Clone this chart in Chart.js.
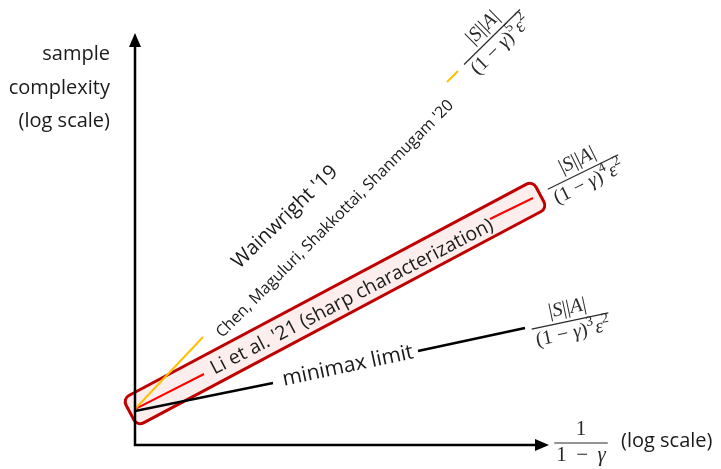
<!DOCTYPE html>
<html>
<head>
<meta charset="utf-8">
<script src="https://cdn.jsdelivr.net/npm/chart.js@4.4.1/dist/chart.umd.min.js"></script>
<style>
  html, body { margin: 0; padding: 0; background: #fff; }
  #wrap { position: relative; width: 721px; height: 469px; }
</style>
</head>
<body>
<div id="wrap"><canvas id="chart"></canvas></div>
<script>
// schematic, log-log units measured from the axis corner
const seriesNames = ["Chen et al. / Wainwright", "Li et al. '21", "minimax limit"];
const yellowPts = [[0, 0.36], [0.68, 1.08], null, [3.12, 3.63], [3.23, 3.74]];
const redPts = [[0, 0.36], [0.69, 0.71], null, [3.55, 2.26], [3.98, 2.47]];
const blackPts = [[0, 0.34], [1.38, 0.62], null, [2.83, 0.94], [3.90, 1.17]];
const bandEnds = [[-0.05, 0.325], [4.05, 2.505]];
const labelTexts = ["Wainwright '19", "Chen, Maguluri, Shakkottai, Shanmugam '20",
  "Li et al. '21 (sharp characterization)", "minimax limit"];
const yTitle = ['sample', 'complexity', '(log scale)'];
const xTitle = '(log scale)';
const exponents = ['5', '4', '3'];

const FONT = '"Open Sans", sans-serif';
const INK = '#1a1a1a';

function toXY(pts) {
  let lastX = 0;
  return pts.map(p => {
    if (!p) return { x: lastX, y: null };
    lastX = p[0];
    return { x: p[0], y: p[1] };
  });
}

function runFont(r, size) {
  return (r.i ? 'italic ' : '') + (r.sup ? Math.round(size * 0.7) : size) + 'px "Liberation Serif", serif';
}

function runsWidth(ctx, runs, size) {
  let w = 0;
  runs.forEach(r => { ctx.font = runFont(r, size); w += ctx.measureText(r.t).width; });
  return w;
}

function drawRuns(ctx, runs, x, y, size) {
  runs.forEach(r => {
    ctx.font = runFont(r, size);
    ctx.fillText(r.t, x, r.sup ? y - size * 0.45 : y);
    x += ctx.measureText(r.t).width + (r.sup ? 1 : 0);
  });
}

function drawFrac(ctx, cx, cy, deg, num, den, size) {
  ctx.save();
  ctx.translate(cx, cy);
  ctx.rotate(deg * Math.PI / 180);
  ctx.fillStyle = '#2a2a2a';
  ctx.strokeStyle = '#2a2a2a';
  ctx.textBaseline = 'alphabetic';
  ctx.textAlign = 'left';
  const wn = runsWidth(ctx, num, size), wd = runsWidth(ctx, den, size);
  const L = Math.max(wn, wd) + 4;
  ctx.lineWidth = 1.2;
  ctx.beginPath();
  ctx.moveTo(-L / 2, 0);
  ctx.lineTo(L / 2, 0);
  ctx.stroke();
  drawRuns(ctx, num, -wn / 2, -size * 0.38, size);
  drawRuns(ctx, den, -wd / 2, size * 0.88, size);
  ctx.restore();
}

function rotText(ctx, text, cx, cy, deg, size) {
  ctx.save();
  ctx.translate(cx, cy);
  ctx.rotate(deg * Math.PI / 180);
  ctx.font = size + 'px ' + FONT;
  ctx.fillStyle = INK;
  ctx.textAlign = 'center';
  ctx.textBaseline = 'middle';
  ctx.fillText(text, 0, 0);
  ctx.restore();
}

const sketchPlugin = {
  id: 'sketch',
  beforeDatasetsDraw(chart) {
    const { ctx, scales: { x, y } } = chart;
    // highlighted band around Li et al.
    const x0 = x.getPixelForValue(bandEnds[0][0]), y0 = y.getPixelForValue(bandEnds[0][1]);
    const x1 = x.getPixelForValue(bandEnds[1][0]), y1 = y.getPixelForValue(bandEnds[1][1]);
    const len = Math.hypot(x1 - x0, y1 - y0);
    const ang = Math.atan2(y1 - y0, x1 - x0);
    const th = 31;
    ctx.save();
    ctx.translate((x0 + x1) / 2, (y0 + y1) / 2);
    ctx.rotate(ang);
    ctx.beginPath();
    ctx.roundRect(-len / 2, -th / 2, len, th, 7);
    ctx.fillStyle = '#fdeeee';
    ctx.fill();
    ctx.lineWidth = 3;
    ctx.strokeStyle = '#c00000';
    ctx.stroke();
    ctx.restore();
  },
  afterDraw(chart) {
    const { ctx, scales: { x, y } } = chart;
    const ox = x.getPixelForValue(0), oy = y.getPixelForValue(0);
    const tipX = x.getPixelForValue(4.14), tipY = y.getPixelForValue(4.12);
    ctx.save();
    ctx.strokeStyle = '#000';
    ctx.fillStyle = '#000';
    ctx.lineWidth = 2.5;
    ctx.beginPath();
    ctx.moveTo(ox, tipY + 10);
    ctx.lineTo(ox, oy);
    ctx.lineTo(tipX - 10, oy);
    ctx.stroke();
    ctx.beginPath();
    ctx.moveTo(ox, tipY);
    ctx.lineTo(ox - 6, tipY + 14);
    ctx.lineTo(ox + 6, tipY + 14);
    ctx.closePath();
    ctx.fill();
    ctx.beginPath();
    ctx.moveTo(tipX, oy);
    ctx.lineTo(tipX - 14, oy - 6);
    ctx.lineTo(tipX - 14, oy + 6);
    ctx.closePath();
    ctx.fill();

    // axis titles
    ctx.font = '20px ' + FONT;
    ctx.fillStyle = INK;
    ctx.textAlign = 'right';
    ctx.textBaseline = 'alphabetic';
    [3.85, 3.51, 3.18].forEach((v, i) => ctx.fillText(yTitle[i], x.getPixelForValue(-0.25), y.getPixelForValue(v)));
    drawFrac(ctx, x.getPixelForValue(4.46), y.getPixelForValue(0.02), 0,
      [{ t: '1' }], [{ t: '1\u2009 − \u2009' }, { t: 'γ', i: 1 }], 21);
    ctx.font = '20px ' + FONT;
    ctx.fillStyle = INK;
    ctx.textAlign = 'left';
    ctx.textBaseline = 'middle';
    ctx.fillText(xTitle, x.getPixelForValue(4.86), y.getPixelForValue(0.04));

    // line labels
    rotText(ctx, labelTexts[0], x.getPixelForValue(1.50), y.getPixelForValue(2.28), -44, 20);
    rotText(ctx, labelTexts[1], x.getPixelForValue(2.00), y.getPixelForValue(2.26), -45, 16);
    rotText(ctx, labelTexts[2], x.getPixelForValue(2.17), y.getPixelForValue(1.48), -27.5, 19.5);
    rotText(ctx, labelTexts[3], x.getPixelForValue(2.13), y.getPixelForValue(0.79), -12, 21);

    // rate fractions at the line ends
    const num = [{ t: '|' }, { t: 'S', i: 1 }, { t: '||' }, { t: 'A', i: 1 }, { t: '|' }];
    const den = e => [{ t: '(1 − ' }, { t: 'γ', i: 1 }, { t: ')' }, { t: e, sup: 1 }, { t: 'ε', i: 1 }, { t: '2', sup: 1 }];
    drawFrac(ctx, x.getPixelForValue(3.57), y.getPixelForValue(4.08), -44.5, num, den(exponents[0]), 20);
    drawFrac(ctx, x.getPixelForValue(4.48), y.getPixelForValue(2.73), -26, num, den(exponents[1]), 20);
    drawFrac(ctx, x.getPixelForValue(4.35), y.getPixelForValue(1.24), -12, num, den(exponents[2]), 20);
    ctx.restore();
  }
};

new Chart(document.getElementById('chart'), {
  type: 'line',
  data: {
    datasets: [
      { label: seriesNames[0], data: toXY(yellowPts), borderColor: '#ffc000', borderWidth: 2 },
      { label: seriesNames[1], data: toXY(redPts), borderColor: '#ff0000', borderWidth: 2 },
      { label: seriesNames[2], data: toXY(blackPts), borderColor: '#000000', borderWidth: 2.5 },
    ],
  },
  options: {
    responsive: true,
    maintainAspectRatio: false,
    animation: false,
    spanGaps: false,
    layout: { padding: { left: 135, right: 0, top: 0, bottom: 24 } },
    elements: { point: { radius: 0, hoverRadius: 0 }, line: { tension: 0, borderCapStyle: 'butt' } },
    plugins: { legend: { display: false }, tooltip: { enabled: false } },
    scales: {
      x: { type: 'linear', min: 0, max: 5.86, display: false },
      y: { type: 'linear', min: 0, max: 4.45, display: false },
    },
  },
  plugins: [sketchPlugin],
});
</script>
</body>
</html>
